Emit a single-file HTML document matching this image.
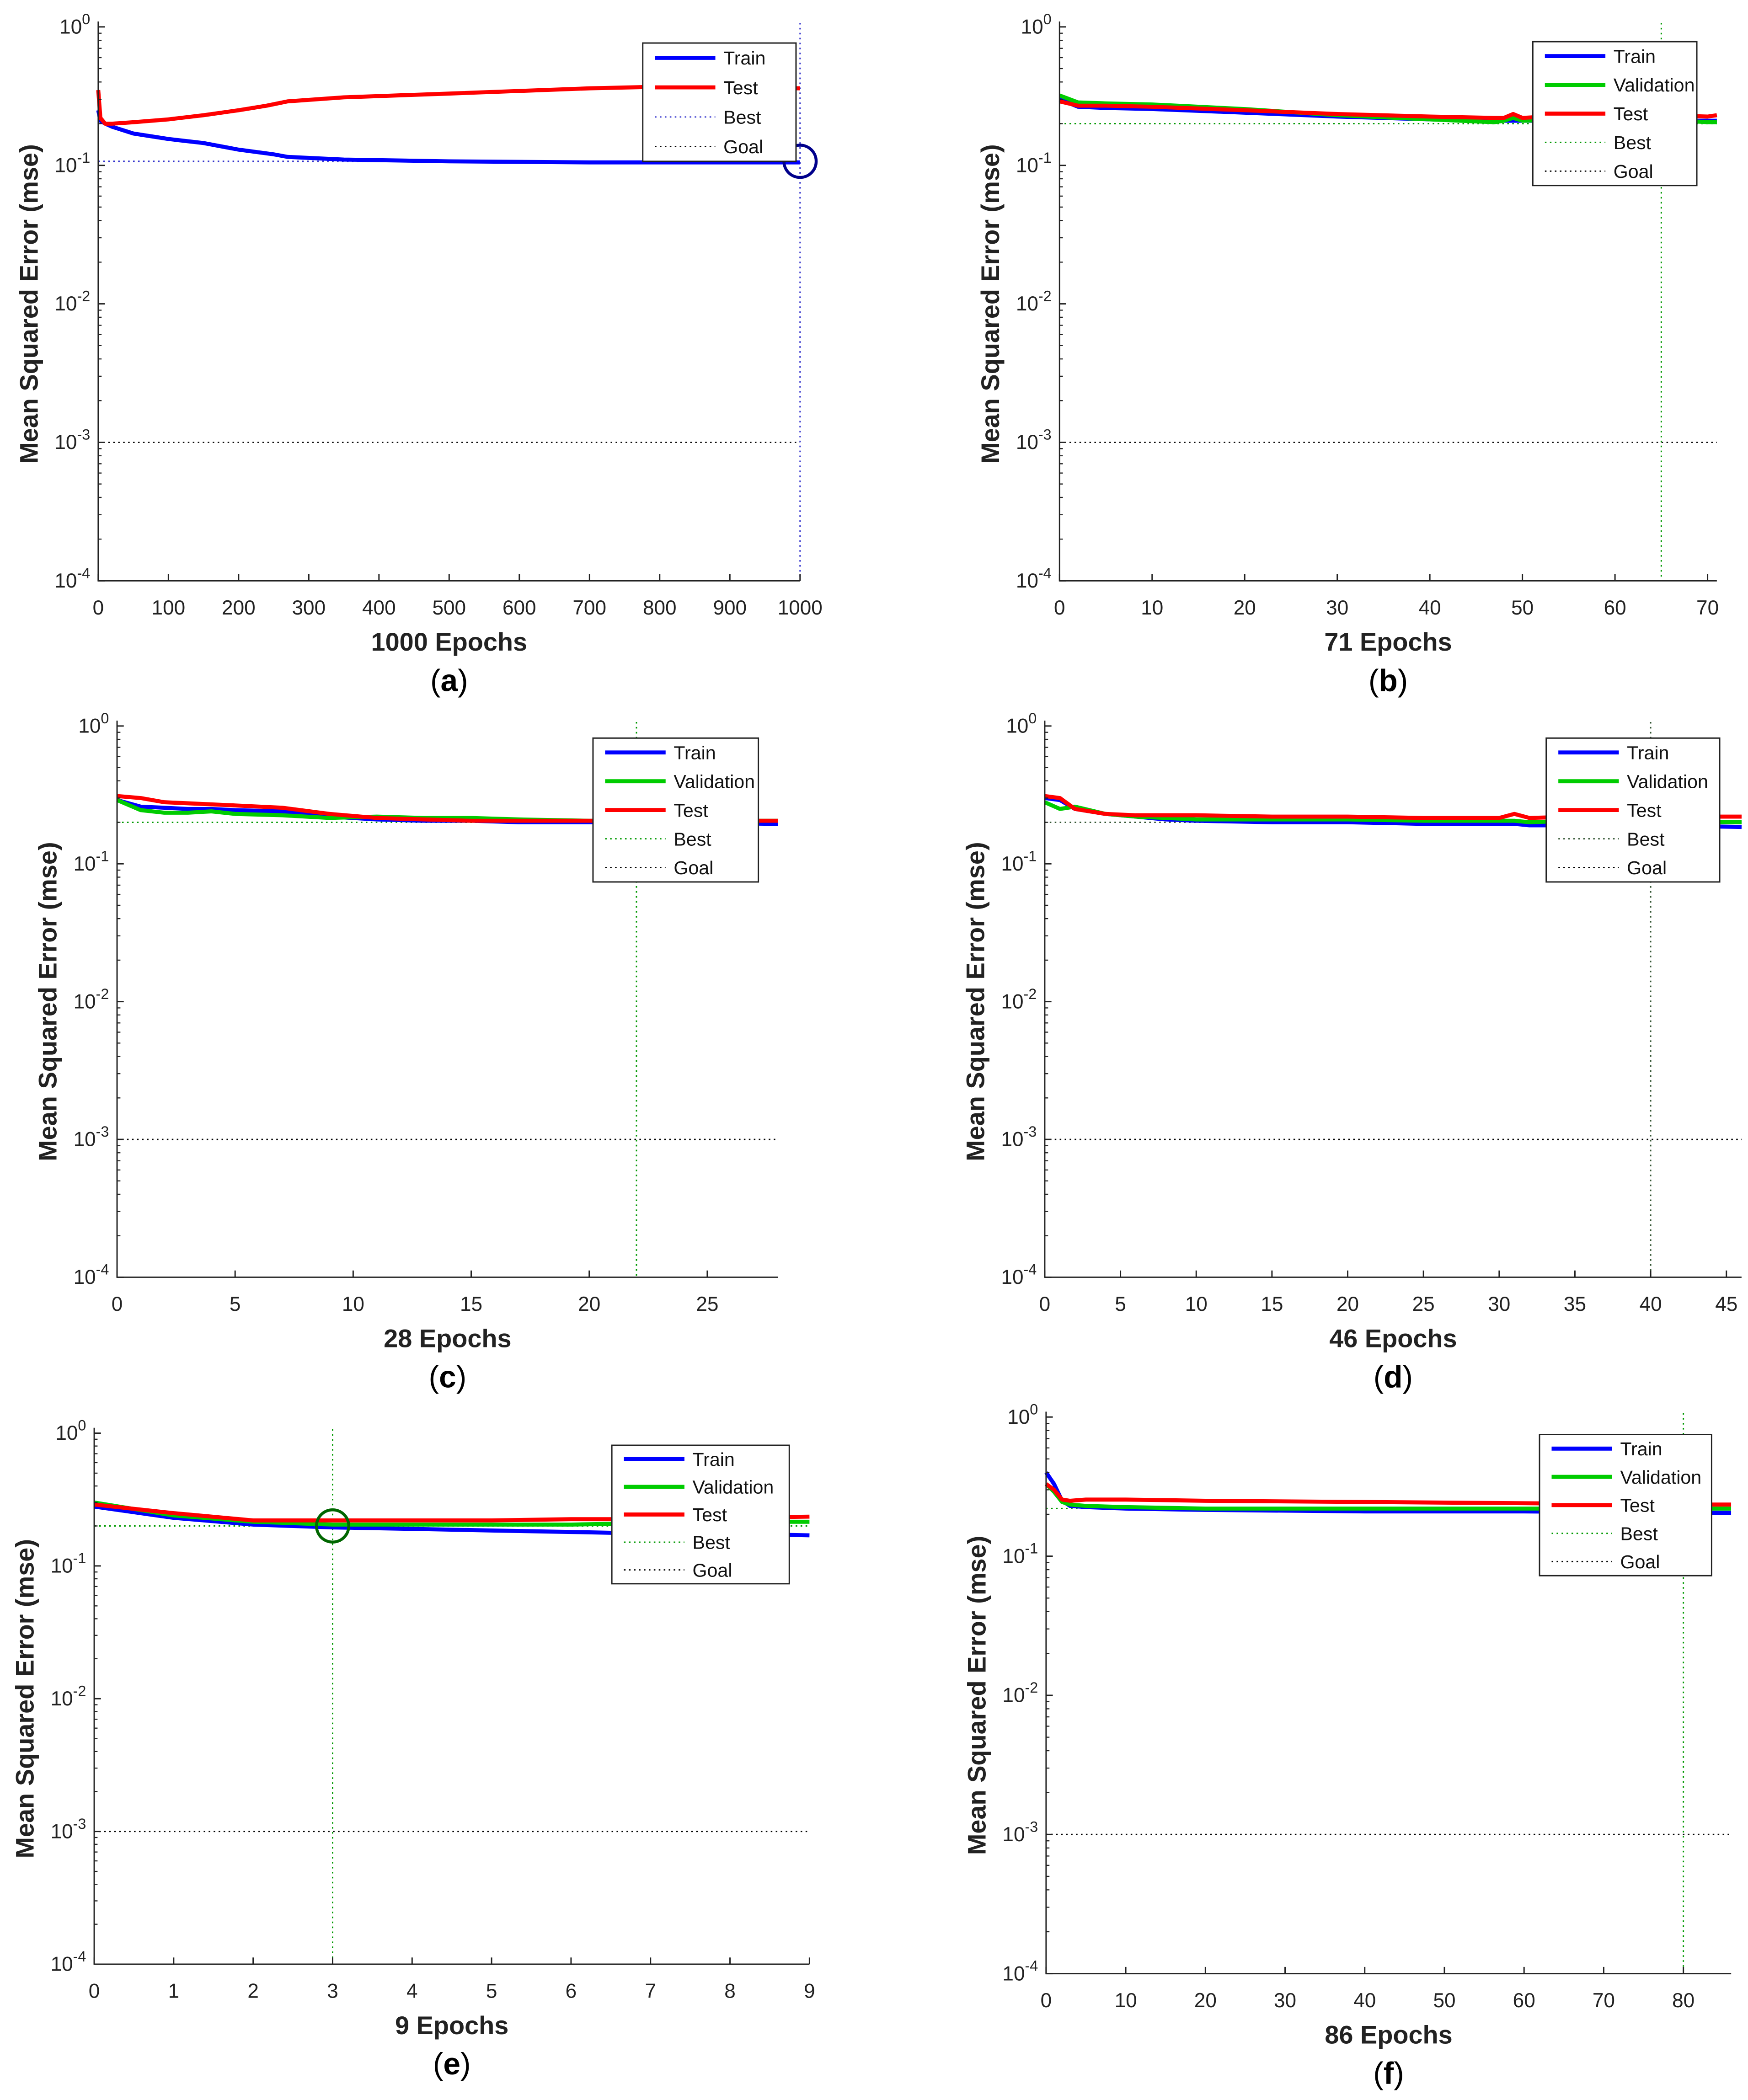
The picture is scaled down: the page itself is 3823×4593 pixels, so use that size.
<!DOCTYPE html>
<html><head><meta charset="utf-8">
<style>
html,body{margin:0;padding:0;background:#fff;}
svg{display:block;}
text{font-family:"Liberation Sans",Arial,sans-serif;}
</style></head>
<body>
<svg id="fig" width="3823" height="4593" viewBox="0 0 1300 1562" xmlns="http://www.w3.org/2000/svg">
<rect width="1300" height="1562" fill="#fff"/>
</svg>
<script>
// ---- data (epochs, mse) ----
const aTrainX=[0,3,10,20,50,100,150,200,250,270,350,500,700,1000];
const aTrainY=[0.25,0.21,0.2,0.19,0.17,0.155,0.145,0.13,0.12,0.115,0.11,0.107,0.105,0.105];
const aTestX=[0,3,10,20,50,100,150,200,240,270,350,500,700,800,1000];
const aTestY=[0.35,0.22,0.2,0.2,0.205,0.215,0.23,0.25,0.27,0.29,0.31,0.33,0.36,0.37,0.36];
const bX=[0,2,5,10,20,30,40,47,48,49,50,55,60,65,70,71];
const bTrain=[0.3,0.265,0.26,0.255,0.24,0.225,0.215,0.21,0.21,0.21,0.21,0.21,0.21,0.21,0.21,0.21];
const bVal=[0.32,0.285,0.28,0.275,0.255,0.23,0.215,0.205,0.21,0.22,0.21,0.215,0.215,0.215,0.205,0.205];
const bTest=[0.29,0.27,0.27,0.265,0.25,0.235,0.225,0.22,0.22,0.235,0.22,0.23,0.23,0.23,0.225,0.23];
const cX=[0,1,2,3,4,5,7,9,11,13,15,17,20,22,28];
const cTrain=[0.29,0.26,0.255,0.25,0.25,0.245,0.24,0.22,0.21,0.205,0.205,0.2,0.2,0.2,0.195];
const cVal=[0.29,0.245,0.235,0.235,0.24,0.23,0.225,0.215,0.22,0.215,0.215,0.21,0.205,0.205,0.205];
const cTest=[0.31,0.3,0.28,0.275,0.27,0.265,0.255,0.23,0.215,0.21,0.205,0.205,0.205,0.205,0.205];
const dX=[0,1,2,4,6,8,10,15,20,25,30,31,32,35,40,46];
const dTrain=[0.3,0.29,0.25,0.23,0.22,0.21,0.205,0.2,0.2,0.195,0.195,0.195,0.19,0.19,0.19,0.185];
const dVal=[0.28,0.25,0.26,0.23,0.22,0.215,0.21,0.21,0.21,0.205,0.205,0.205,0.2,0.205,0.2,0.2];
const dTest=[0.31,0.3,0.25,0.23,0.225,0.225,0.225,0.22,0.22,0.215,0.215,0.23,0.215,0.22,0.22,0.22];
const eX=[0,1,2,3,4,5,6,7,8,9];
const eTrain=[0.28,0.23,0.205,0.195,0.19,0.185,0.18,0.175,0.175,0.17];
const eVal=[0.3,0.24,0.215,0.205,0.205,0.205,0.205,0.21,0.215,0.215];
const eTest=[0.29,0.25,0.22,0.22,0.22,0.22,0.225,0.225,0.23,0.235];
const fX=[0,1,2,3,5,10,20,40,60,80,86];
const fTrain=[0.4,0.33,0.25,0.23,0.225,0.22,0.215,0.21,0.21,0.205,0.205];
const fVal=[0.33,0.29,0.245,0.235,0.23,0.225,0.22,0.22,0.22,0.22,0.22];
const fTest=[0.33,0.3,0.255,0.25,0.255,0.255,0.25,0.245,0.24,0.235,0.235];

const NS='http://www.w3.org/2000/svg';
const svg=document.getElementById('fig');
function mk(tag,attrs,parent){const e=document.createElementNS(NS,tag);for(const k in attrs)e.setAttribute(k,attrs[k]);(parent||svg).appendChild(e);return e;}
const BLUE='#0000ff',GREEN='#00cc00',RED='#ff0000';

const panels=[
 {id:'a',x0:73,x1:595,xmax:1000,xt:[0,100,200,300,400,500,600,700,800,900,1000],xEnd:1000,yTop:20,yBot:432,lab:'1000 Epochs',letter:'(a)',
  series:[{x:aTrainX,y:aTrainY,c:BLUE,n:'Train'},{x:aTestX,y:aTestY,c:RED,n:'Test'}],best:1000,bestY:0.107,bestC:'#3333cc',circle:true,circC:'#00008b',
  leg:[478,32,114,88],legItems:[['Train',BLUE,0],['Test',RED,0],['Best','#3333cc',1],['Goal','#000',1]]},
 {id:'b',x0:788,x1:1270,xmax:70,xt:[0,10,20,30,40,50,60,70],xEnd:71,yTop:20,yBot:432,lab:'71 Epochs',letter:'(b)',
  series:[{x:bX,y:bTrain,c:BLUE,n:'Train'},{x:bX,y:bVal,c:GREEN,n:'Validation'},{x:bX,y:bTest,c:RED,n:'Test'}],best:65,bestY:0.2,bestC:'#009900',
  leg:[1140,31,122,107]},
 {id:'c',x0:87,x1:526,xmax:25,xt:[0,5,10,15,20,25],xEnd:28,yTop:540,yBot:950,lab:'28 Epochs',letter:'(c)',
  series:[{x:cX,y:cTrain,c:BLUE,n:'Train'},{x:cX,y:cVal,c:GREEN,n:'Validation'},{x:cX,y:cTest,c:RED,n:'Test'}],best:22,bestY:0.2,bestC:'#009900',
  leg:[441,549,123,107]},
 {id:'d',x0:777,x1:1284,xmax:45,xt:[0,5,10,15,20,25,30,35,40,45],xEnd:46,yTop:540,yBot:950,lab:'46 Epochs',letter:'(d)',
  series:[{x:dX,y:dTrain,c:BLUE,n:'Train'},{x:dX,y:dVal,c:GREEN,n:'Validation'},{x:dX,y:dTest,c:RED,n:'Test'}],best:40,bestY:0.2,bestC:'#335533',
  leg:[1150,549,129,107]},
 {id:'e',x0:70,x1:602,xmax:9,xt:[0,1,2,3,4,5,6,7,8,9],xEnd:9,yTop:1066,yBot:1461,lab:'9 Epochs',letter:'(e)',
  series:[{x:eX,y:eTrain,c:BLUE,n:'Train'},{x:eX,y:eVal,c:GREEN,n:'Validation'},{x:eX,y:eTest,c:RED,n:'Test'}],best:3,bestY:0.2,bestC:'#009900',circle:true,circC:'#006600',
  leg:[455,1075,132,103]},
 {id:'f',x0:778,x1:1252,xmax:80,xt:[0,10,20,30,40,50,60,70,80],xEnd:86,yTop:1054,yBot:1468,lab:'86 Epochs',letter:'(f)',
  series:[{x:fX,y:fTrain,c:BLUE,n:'Train'},{x:fX,y:fVal,c:GREEN,n:'Validation'},{x:fX,y:fTest,c:RED,n:'Test'}],best:80,bestY:0.22,bestC:'#009900',
  leg:[1145,1067,128,105]}
];

panels.forEach(p=>{
 const g=mk('g',{});
 
 
 const sx=v=>p.x0+(v/p.xmax)*(p.x1-p.x0);
 const dec=(p.yBot-p.yTop)/4;
 const sy=v=>p.yTop+(-Math.log10(v))*dec;
 const xR=sx(p.xEnd);
 const goal=mk('line',{x1:p.x0,x2:xR,y1:sy(1e-3),y2:sy(1e-3),stroke:'#000','stroke-width':1,'stroke-dasharray':'1.2,2.5'},g);
 
 
 const bh=mk('line',{x1:p.x0,x2:xR,y1:sy(p.bestY),y2:sy(p.bestY),stroke:p.bestC,'stroke-width':1,'stroke-dasharray':'1.2,2.5'},g);
 
 
 const bv=mk('line',{x1:sx(p.best),x2:sx(p.best),y1:p.yTop-3,y2:p.yBot,stroke:p.bestC,'stroke-width':1,'stroke-dasharray':'1.2,2.5'},g);
 
 
 p.series.forEach(s=>{
  const d=s.x.map((v,i)=>(i?'L':'M')+sx(v).toFixed(1)+','+sy(s.y[i]).toFixed(1)).join('');
  const pl=mk('path',{d:d,fill:'none',stroke:s.c,'stroke-width':3,'stroke-linejoin':'round'},g);
  
  
 });
 if(p.circle){
  const c=mk('circle',{cx:sx(p.best),cy:sy(p.bestY),r:12,fill:'none',stroke:p.circC,'stroke-width':2.2},g);
  
  
 }
 const ax=mk('path',{d:`M${p.x0},${p.yTop-4}V${p.yBot}H${xR}`,fill:'none',stroke:'#222','stroke-width':1},g);
 
 
 for(let k=0;k<=4;k++){
  const y=p.yTop+k*dec;
  mk('line',{x1:p.x0,x2:p.x0+5,y1:y,y2:y,stroke:'#222','stroke-width':1},g);
  if(k<4){for(let m=2;m<=9;m++){const yy=y+(1-Math.log10(m))*dec;mk('line',{x1:p.x0,x2:p.x0+2.5,y1:yy,y2:yy,stroke:'#222','stroke-width':0.8},g);}}
  const t=mk('text',{x:p.x0-6,y:y+5,'font-size':15,'text-anchor':'end',fill:'#222'},g);
  
  
  t.textContent='10';
  const sup=mk('tspan',{dy:-7,'font-size':11},t);
  sup.textContent=k===0?'0':'-'+k;
 }
 p.xt.forEach(v=>{
  const x=sx(v);
  mk('line',{x1:x,x2:x,y1:p.yBot,y2:p.yBot-5,stroke:'#222','stroke-width':1},g);
  const t=mk('text',{x:x,y:p.yBot+25,'font-size':15,'text-anchor':'middle',fill:'#222'},g);
  
  
  t.textContent=v;
 });
 const xl=mk('text',{x:(p.x0+xR)/2,y:p.yBot+52,'font-size':19,'font-weight':'bold','text-anchor':'middle',fill:'#222'},g);
 
 
 xl.textContent=p.lab;
 const yc=(p.yTop+p.yBot)/2, yx=p.x0-45;
 const yl=mk('text',{x:yx,y:yc,'font-size':19,'font-weight':'bold','text-anchor':'middle',fill:'#222',transform:`rotate(-90 ${yx} ${yc})`},g);
 
 
 yl.textContent='Mean Squared Error  (mse)';
 const lt=mk('text',{x:(p.x0+xR)/2,y:p.yBot+82,'font-size':23,'text-anchor':'middle',fill:'#000','font-family':'Liberation Serif, serif'},g);
 
 
 lt.innerHTML='(<tspan font-weight="bold">'+p.letter[1]+'</tspan>)';
 const [lx,ly,lw,lh]=p.leg;
 const lg=mk('g',{},g);
 
 
 mk('rect',{x:lx,y:ly,width:lw,height:lh,fill:'#fff',stroke:'#222','stroke-width':1},lg);
 const items=p.legItems||[['Train',BLUE,0],['Validation',GREEN,0],['Test',RED,0],['Best',p.bestC,1],['Goal','#000',1]];
 const step=lh/items.length;
 items.forEach((it,i)=>{
  const y=ly+step*(i+0.5);
  const ln=mk('line',{x1:lx+9,x2:lx+54,y1:y,y2:y,stroke:it[1],'stroke-width':it[2]?1:3,'stroke-dasharray':it[2]?'1.2,2.5':'none'},lg);
  
  
  const t=mk('text',{x:lx+60,y:y+5,'font-size':14,fill:'#111'},lg);
  
  
  t.textContent=it[0];
 });
});
</script>
</body></html>
